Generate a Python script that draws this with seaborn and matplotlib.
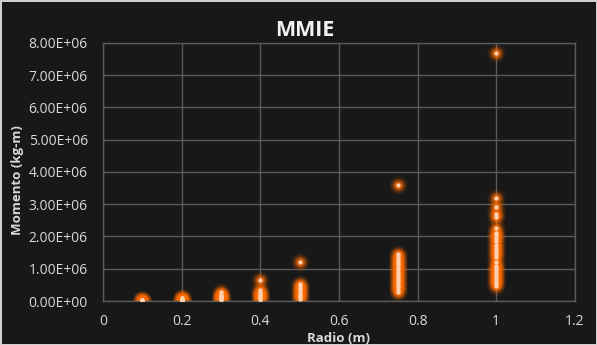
import numpy as np
import pandas as pd
import matplotlib
matplotlib.use("Agg")
import matplotlib.pyplot as plt
import seaborn as sns
from matplotlib.ticker import FuncFormatter

# valores: radio (m) -> momento (kg-m)
r010 = [5e3, 1.2e4, 2e4, 3e4, 4e4]
r020 = [1e4, 2.5e4, 4e4, 6e4, 8e4, 1.0e5]
r030 = [2e4, 5e4, 8e4, 1.1e5, 1.4e5, 1.7e5, 2.0e5, 2.9e5]
r040 = [3e4, 8e4, 1.3e5, 1.8e5, 2.3e5, 2.8e5, 3.3e5, 6.4e5]
r050 = [6e4, 1.2e5, 1.9e5, 2.6e5, 3.3e5, 4.0e5, 4.7e5, 5.4e5, 1.2e6]
r075 = [2.7e5, 3.4e5, 4.2e5, 5.0e5, 5.8e5, 6.6e5, 7.4e5, 8.2e5, 9.0e5,
        9.8e5, 1.06e6, 1.14e6, 1.22e6, 1.30e6, 1.38e6, 1.46e6, 3.6e6]
r100 = [4.7e5, 5.5e5, 6.3e5, 7.1e5, 7.9e5, 8.7e5, 9.5e5, 1.03e6, 1.1e6,
        1.2e6, 1.35e6, 1.45e6, 1.55e6, 1.65e6, 1.75e6, 1.85e6, 1.95e6,
        2.05e6, 2.12e6, 2.27e6, 2.6e6, 2.7e6, 2.9e6, 3.2e6, 7.69e6]

radios = [0.1, 0.2, 0.3, 0.4, 0.5, 0.75, 1.0]
grupos = [r010, r020, r030, r040, r050, r075, r100]

rows = []
for r, vals in zip(radios, grupos):
    for v in vals:
        rows.append({"Radio": r, "Momento": v})
df = pd.DataFrame(rows)

bg = "#181818"
sns.set_theme(style="dark")
plt.rcParams["font.family"] = ["Open Sans", "DejaVu Sans"]

fig = plt.figure(figsize=(5.97, 3.45), dpi=100, facecolor=bg,
                 edgecolor="#cfcfcf", linewidth=2)
ax = fig.add_axes([0.1725, 0.1275, 0.7905, 0.748])
ax.set_facecolor(bg)

# brillo naranja alrededor de cada punto
for s, a in [(180, 0.08), (115, 0.16), (70, 0.3), (38, 0.55)]:
    sns.scatterplot(data=df, x="Radio", y="Momento", ax=ax, s=s,
                    color="#ff6c00", alpha=a, linewidth=0, legend=False)
sns.scatterplot(data=df, x="Radio", y="Momento", ax=ax, s=10,
                color="#ffcfae", linewidth=0, legend=False, zorder=5)

ax.set_xlim(0, 1.2)
ax.set_ylim(0, 8e6)
ax.set_xticks([0, 0.2, 0.4, 0.6, 0.8, 1.0, 1.2])
ax.set_yticks(np.arange(0, 8.5e6, 1e6))
ax.xaxis.set_major_formatter(FuncFormatter(lambda v, p: f"{v:g}"))
ax.yaxis.set_major_formatter(FuncFormatter(lambda v, p: f"{v:.2E}"))
ax.grid(True, color="#5a5a5a", linewidth=1)
ax.set_axisbelow(True)
for sp in ax.spines.values():
    sp.set_color("#5a5a5a")
    sp.set_linewidth(1)
ax.tick_params(colors="#d9d9d9", labelsize=10, length=0)
ax.tick_params(axis="y", pad=11)
ax.tick_params(axis="x", pad=9)

ax.set_xlabel("Radio (m)", color="#d9d9d9", fontsize=9.5, fontweight="bold")
ax.set_ylabel("Momento (kg-m)", color="#d9d9d9", fontsize=9.5, fontweight="bold")
ax.xaxis.set_label_coords(0.498, -0.12)
ax.yaxis.set_label_coords(-0.168, 0.47)
fig.text(0.511, 0.913, "MMIE", color="#f2f2f2", fontsize=15.5, fontweight="bold",
         ha="center", va="center")

fig.savefig("out.png", dpi=100, facecolor=bg, edgecolor="#cfcfcf")
